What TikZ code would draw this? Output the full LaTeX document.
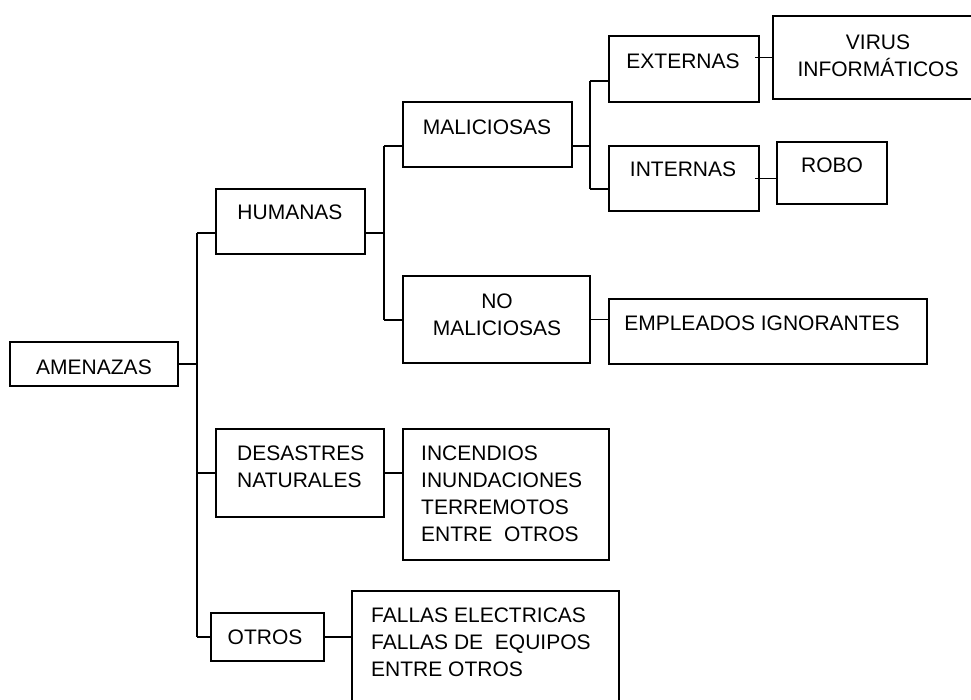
\documentclass[tikz,border=0pt]{standalone}
\usepackage{fontspec}
\setmainfont{Liberation Sans}
\usepackage{tikz}

\begin{document}
\begin{tikzpicture}[x=1pt, y=-1pt,
    box/.style={draw, line width=1.9pt, inner sep=0pt},
    txt/.style={inner sep=0pt, font=\fontsize{21}{27}\selectfont},
    link/.style={line width=1.9pt}]
    % Page frame (the last boxes run off the page)
    \path[use as bounding box, clip] (0,0) rectangle (971,699);

    % Boxes
    \node[box, minimum width=168pt, minimum height=44pt] (amen) at (94,364) {};
    \node[box, minimum width=149pt, minimum height=65pt] (hum) at (290.5,221.5) {};
    \node[box, minimum width=169pt, minimum height=65pt] (mal) at (487.5,134.5) {};
    \node[box, minimum width=150pt, minimum height=66pt] (ext) at (684,69) {};
    \node[box, minimum width=217pt, minimum height=83pt] (vir) at (881.5,57.5) {};
    \node[box, minimum width=150pt, minimum height=65pt] (inte) at (684,178.5) {};
    \node[box, minimum width=110pt, minimum height=62pt] (robo) at (832,173) {};
    \node[box, minimum width=187pt, minimum height=87pt] (nomal) at (496.5,319.5) {};
    \node[box, minimum width=318pt, minimum height=65pt] (emp) at (768,331.5) {};
    \node[box, minimum width=168pt, minimum height=88pt] (des) at (300,473) {};
    \node[box, minimum width=206pt, minimum height=131pt] (inc) at (506,494.5) {};
    \node[box, minimum width=113pt, minimum height=48pt] (otr) at (267.5,637) {};
    \node[box, minimum width=267pt, minimum height=119pt] (fal) at (485.5,650.5) {};

    % Texts
    \node[txt] (amenT) at (94,367) {AMENAZAS};
    \node[txt] (humT) at (290,212) {HUMANAS};
    \node[txt] (malT) at (487,127) {MALICIOSAS};
    \node[txt] (extT) at (683,61) {EXTERNAS};
    \node[txt, align=center, anchor=north] (virT) at (878,34.5) {VIRUS\\INFORMÁTICOS};
    \node[txt] (inteT) at (683,169) {INTERNAS};
    \node[txt] (roboT) at (832,165) {ROBO};
    \node[txt, align=center, anchor=north] (nomalT) at (497,293.5) {NO\\MALICIOSAS};
    \node[txt] (empT) at (762,323) {EMPLEADOS IGNORANTES};
    \node[txt, align=left, anchor=north west] (desT) at (237,445.5) {DESASTRES\\NATURALES};
    \node[txt, align=left, anchor=north west] (incT) at (421,445.5)
        {INCENDIOS\\INUNDACIONES\\TERREMOTOS\\ENTRE~~OTROS};
    \node[txt] (otrT) at (265,637) {OTROS};
    \node[txt, align=left, anchor=north west] (falT) at (371,607.5)
        {FALLAS ELECTRICAS\\FALLAS DE~~EQUIPOS\\ENTRE OTROS};

    % Branch points
    \coordinate (c1top) at (197,233);
    \coordinate (c1bot) at (197,637);
    \coordinate (c2top) at (384,146);
    \coordinate (c2bot) at (384,320);
    \coordinate (c3top) at (590,81);
    \coordinate (c3bot) at (590,189);

    % First level
    \draw[link] (amen.east) -- (amen.east -| c1top);
    \draw[link] (c1top) -- (c1bot);
    \draw[link] (c1top) -- (c1top -| hum.west);
    \draw[link] (c1top |- des.west) -- (des.west);
    \draw[link] (c1bot) -- (c1bot -| otr.west);

    % Humanas
    \draw[link] (hum.east |- c1top) -- (c2top |- c1top);
    \draw[link] (c2top) -- (c2bot);
    \draw[link] (c2top) -- (c2top -| mal.west);
    \draw[link] (c2bot) -- (c2bot -| nomal.west);

    % Maliciosas
    \draw[link] (mal.east |- c2top) -- (c3top |- c2top);
    \draw[link] (c3top) -- (c3bot);
    \draw[link] (c3top) -- (c3top -| ext.west);
    \draw[link] (c3bot) -- (c3bot -| inte.west);

    % Leaves
    \draw[link, shorten <=-5pt] (ext.east |- vir.west) -- (vir.west);
    \draw[link, shorten <=-5pt] (inte.east) -- (inte.east -| robo.west);
    \draw[link] (nomal.east) -- (nomal.east -| emp.west);
    \draw[link] (des.east) -- (des.east -| inc.west);
    \draw[link] (otr.east) -- (otr.east -| fal.west);
\end{tikzpicture}
\end{document}
